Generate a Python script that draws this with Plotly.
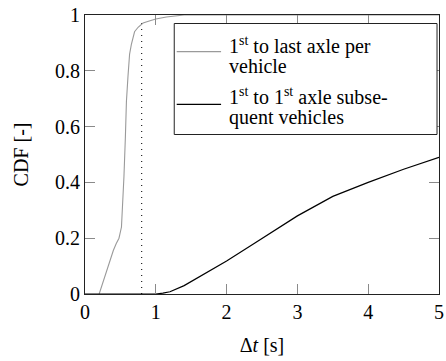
import plotly.graph_objects as go

# Empirical CDFs of axle time gaps
dt_axle = [0.2, 0.25, 0.3, 0.35, 0.4, 0.44, 0.48, 0.515, 0.537, 0.55, 0.57, 0.585,
           0.607, 0.63, 0.655, 0.70, 0.75, 0.82, 0.93, 1.0, 1.15, 1.4, 5.0]
cdf_axle = [0.0, 0.04, 0.08, 0.12, 0.156, 0.18, 0.2, 0.24, 0.335, 0.42, 0.56, 0.69,
            0.78, 0.86, 0.895, 0.94, 0.956, 0.971, 0.98, 0.986, 0.993, 1.0, 1.0]

dt_vehicle = [0.0, 1.0, 1.1, 1.2, 1.4, 1.6, 1.8, 2.0, 2.4, 3.0, 3.5, 4.0, 4.5, 5.0]
cdf_vehicle = [0.0, 0.0, 0.003, 0.008, 0.03, 0.06, 0.09, 0.118, 0.183, 0.28, 0.35,
               0.40, 0.447, 0.49]

# Threshold marker
dt_threshold = [0.8, 0.8]
cdf_threshold = [0.0, 0.975]

x_ticks = [0, 1, 2, 3, 4, 5]
y_ticks = [0, 0.2, 0.4, 0.6, 0.8, 1]
y_tick_text = ["0", "0.2", "0.4", "0.6", "0.8", "1"]

legend_lines = [
    ["1<sup>st</sup> to last axle per", "vehicle"],
    ["1<sup>st</sup> to 1<sup>st</sup> axle subse-", "quent vehicles"],
]
legend_colors = ["#9a9a9a", "#000000"]

FONT = "Liberation Serif"
W, H = 446, 361
ML, MR, MT, MB = 85, 2, 15, 67
PW, PH = W - ML - MR, H - MT - MB


def px_x(p):
    return (p - ML) / PW


def px_y(p):
    return (H - MB - p) / PH


fig = go.Figure()
fig.add_trace(go.Scatter(x=dt_threshold, y=cdf_threshold, mode="lines",
                         line=dict(color="#222222", width=1.2, dash="1px,5px"),
                         showlegend=False, hoverinfo="skip"))
fig.add_trace(go.Scatter(x=dt_axle, y=cdf_axle, mode="lines",
                         line=dict(color=legend_colors[0], width=1.1),
                         showlegend=False))
fig.add_trace(go.Scatter(x=dt_vehicle, y=cdf_vehicle, mode="lines",
                         line=dict(color=legend_colors[1], width=1.2),
                         showlegend=False))

# Legend box
shapes = [dict(type="rect", xref="paper", yref="paper",
               x0=px_x(175.5), x1=px_x(442), y0=px_y(134.5), y1=px_y(23.5),
               line=dict(color="#222222", width=1), fillcolor="white", layer="above")]
annotations = []
sample_y = [51.7, 104.3]
text_y = [[45, 66], [96, 117]]
for i, lines in enumerate(legend_lines):
    shapes.append(dict(type="line", xref="paper", yref="paper",
                       x0=px_x(178), x1=px_x(223), y0=px_y(sample_y[i]), y1=px_y(sample_y[i]),
                       line=dict(color=legend_colors[i], width=1.2), layer="above"))
    for j, txt in enumerate(lines):
        annotations.append(dict(text=txt, xref="paper", yref="paper",
                                x=px_x(229), y=px_y(text_y[i][j]),
                                xanchor="left", yanchor="middle", showarrow=False,
                                font=dict(family=FONT, size=20, color="black")))

axis_common = dict(showline=True, linecolor="#222222", linewidth=1, mirror="ticks",
                   ticks="inside", ticklen=10, tickcolor="#8a8a8a", tickwidth=1,
                   showgrid=False, zeroline=False, ticklabeloverflow="allow",
                   tickfont=dict(family=FONT, size=20, color="black"))

fig.update_layout(
    width=W, height=H,
    margin=dict(l=ML, r=MR, t=MT, b=MB),
    paper_bgcolor="white", plot_bgcolor="white",
    font=dict(family=FONT, size=20, color="black"),
    shapes=shapes, annotations=annotations,
    xaxis=dict(range=[0, 5], tickvals=x_ticks,
               title=dict(text="Δ<i>t</i> [s]", font=dict(family=FONT, size=20, color="black"),
                          standoff=15),
               **axis_common),
    yaxis=dict(range=[0, 1], tickvals=y_ticks, ticktext=y_tick_text,
               title=dict(text="CDF [-]", font=dict(family=FONT, size=20, color="black"),
                          standoff=21),
               **axis_common),
)

fig.write_html("out.html")
